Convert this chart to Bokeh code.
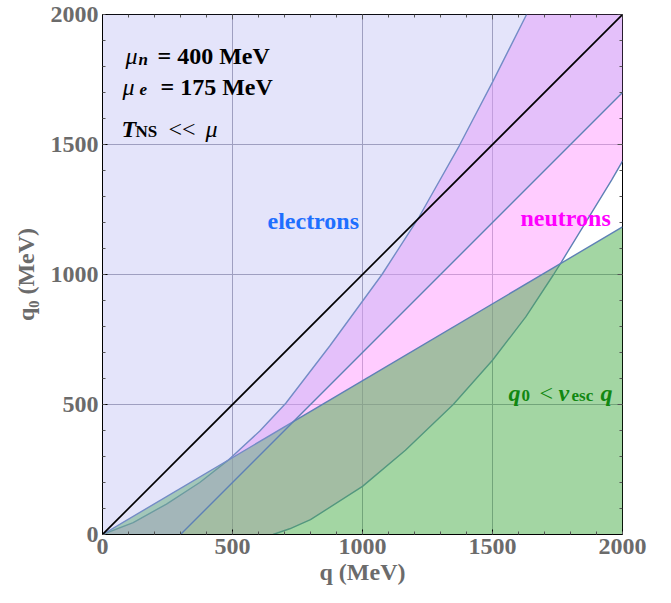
from bokeh.plotting import figure
from bokeh.models import Range1d, FixedTicker, Label
from bokeh.embed import file_html
from bokeh.resources import INLINE

# ---- data (MeV) ----
major_ticks = [0, 500, 1000, 1500, 2000]
minor_ticks = list(range(0, 2001, 100))
tick_labels = {0: "0", 500: "500", 1000: "1000", 1500: "1500", 2000: "2000"}

# neutron region: upper boundary curve
n_up_q = [0, 118, 246, 374, 480, 605, 705, 874, 1075, 1218, 1372, 1500, 1631]
n_up_q0 = [0, 46, 117, 200, 283, 398, 505, 725, 1000, 1222, 1495, 1740, 2000]
# neutron region: lower boundary curve
n_lo_q = [656, 720, 800, 1000, 1165, 1349, 1500, 1628, 1735, 1765, 1958, 2000]
n_lo_q0 = [0, 22, 57, 185, 324, 500, 670, 837, 1000, 1048, 1363, 1436]
# electron region boundary
e_q = [300, 2000]
e_q0 = [0, 1700]
# escape-velocity line q0 = v_esc q
v_q = [0, 2000]
v_q0 = [0, 1183]
# light cone q0 = q
d_q = [0, 2000]
d_q0 = [0, 2000]

edge = "#5E81B5"
serif = "Liberation Serif"
grey = "#6B6B6B"

p = figure(frame_width=520, frame_height=520,
           x_range=Range1d(0, 2000), y_range=Range1d(0, 2000),
           output_backend="svg", toolbar_location=None,
           min_border_left=102, min_border_right=49,
           min_border_top=14, min_border_bottom=69,
           background_fill_color="white", border_fill_color="white",
           outline_line_color="black", outline_line_width=1)

# ---- axes ----
for ax in (p.xaxis[0], p.yaxis[0]):
    ax.ticker = FixedTicker(ticks=major_ticks, minor_ticks=minor_ticks)
    ax.major_tick_in = 5
    ax.major_tick_out = 0
    ax.minor_tick_in = 3
    ax.minor_tick_out = 0
    ax.axis_line_color = "black"
    ax.major_tick_line_color = "black"
    ax.minor_tick_line_color = "#555555"
    ax.major_label_overrides = tick_labels
    ax.major_label_text_font = serif
    ax.major_label_text_font_style = "bold"
    ax.major_label_text_font_size = "24px"
    ax.major_label_text_color = grey
    ax.axis_label_text_font = serif
    ax.axis_label_text_font_style = "bold"
    ax.axis_label_text_font_size = "24px"
    ax.axis_label_text_color = grey

p.xaxis[0].axis_label = "q (MeV)"
p.xaxis[0].major_label_standoff = 4
p.xaxis[0].axis_label_standoff = 2
p.yaxis[0].axis_label = "q\u2080 (MeV)"
p.yaxis[0].major_label_standoff = 4
p.yaxis[0].axis_label_standoff = 9

for g in (p.xgrid[0], p.ygrid[0]):
    g.ticker = FixedTicker(ticks=[500, 1000, 1500])
    g.grid_line_color = "#9C9CAC"
    g.grid_line_width = 1

# ---- regions ----
# neutrons
nx = n_up_q + [2000] + n_lo_q[::-1]
ny = n_up_q0 + [2000] + n_lo_q0[::-1]
p.patch(nx, ny, fill_color="#FF99FF", fill_alpha=0.5, line_color=None)
p.line(n_up_q, n_up_q0, line_color=edge, line_width=1.4)
p.line(n_lo_q, n_lo_q0, line_color=edge, line_width=1.4)

# q0 < v_esc q
gx = v_q + [v_q[1]]
gy = v_q0 + [0]
p.patch(gx, gy, fill_color="#47AD47", fill_alpha=0.5, line_color=None)
p.line(v_q, v_q0, line_color=edge, line_width=1.4)

# electrons
ex = [0] + e_q + [2000, 0]
ey = [0] + e_q0 + [2000, 2000]
p.patch(ex, ey, fill_color="#A5A5EE", fill_alpha=0.3, line_color=None)
p.line(e_q, e_q0, line_color=edge, line_width=1.4)

# light cone
p.line(d_q, d_q0, line_color="black", line_width=1.7)

# ---- frame ticks on top and right edges (inward) ----
tl = [11.5 if t % 500 else 19 for t in minor_ticks]
p.segment(x0=minor_ticks, y0=[2000] * len(minor_ticks),
          x1=minor_ticks, y1=[2000 - L for L in tl],
          line_color="#555555", line_width=1)
p.segment(x0=[2000] * len(minor_ticks), y0=minor_ticks,
          x1=[2000 - L for L in tl], y1=minor_ticks,
          line_color="#555555", line_width=1)

# ---- annotations (positions given in pixels of the frame) ----
def D(x, y):
    return (x - 102.0) / 0.26, (534.0 - y) / 0.26

def lab(t, x, y, size="24px", style="bold", color="black"):
    qx, qy = D(x, y)
    p.add_layout(Label(x=qx, y=qy, text=t, text_font=serif,
                       text_font_size=size, text_font_style=style,
                       text_color=color, text_align="left",
                       text_baseline="alphabetic"))

lab("\u03bc", 125, 55, style="italic")
lab("n", 138, 59, size="17px", style="bold italic")
lab("= 400 MeV", 157, 55)
lab("\u03bc", 122, 86, style="italic")
lab("e", 139, 89, size="17px", style="bold italic")
lab("= 175 MeV", 160, 86)
lab("T", 121, 128, style="bold italic")
lab("NS", 135, 131, size="17px")
lab("<<", 168, 128, style="normal")
lab("\u03bc", 205, 128, style="italic")

lab("electrons", 267, 220, color="#1F6FFF")
lab("neutrons", 520, 217, color="#FF00FF")

gc = "#118811"
lab("q", 508, 392, style="bold italic", color=gc)
lab("0", 521, 395, size="17px", color=gc)
lab("<", 539, 392, style="normal", color=gc)
lab("v", 558, 392, style="bold italic", color=gc)
lab("esc", 571, 395, size="17px", color=gc)
lab("q", 600, 392, style="bold italic", color=gc)

open("out.html", "w").write(file_html(p, INLINE))
